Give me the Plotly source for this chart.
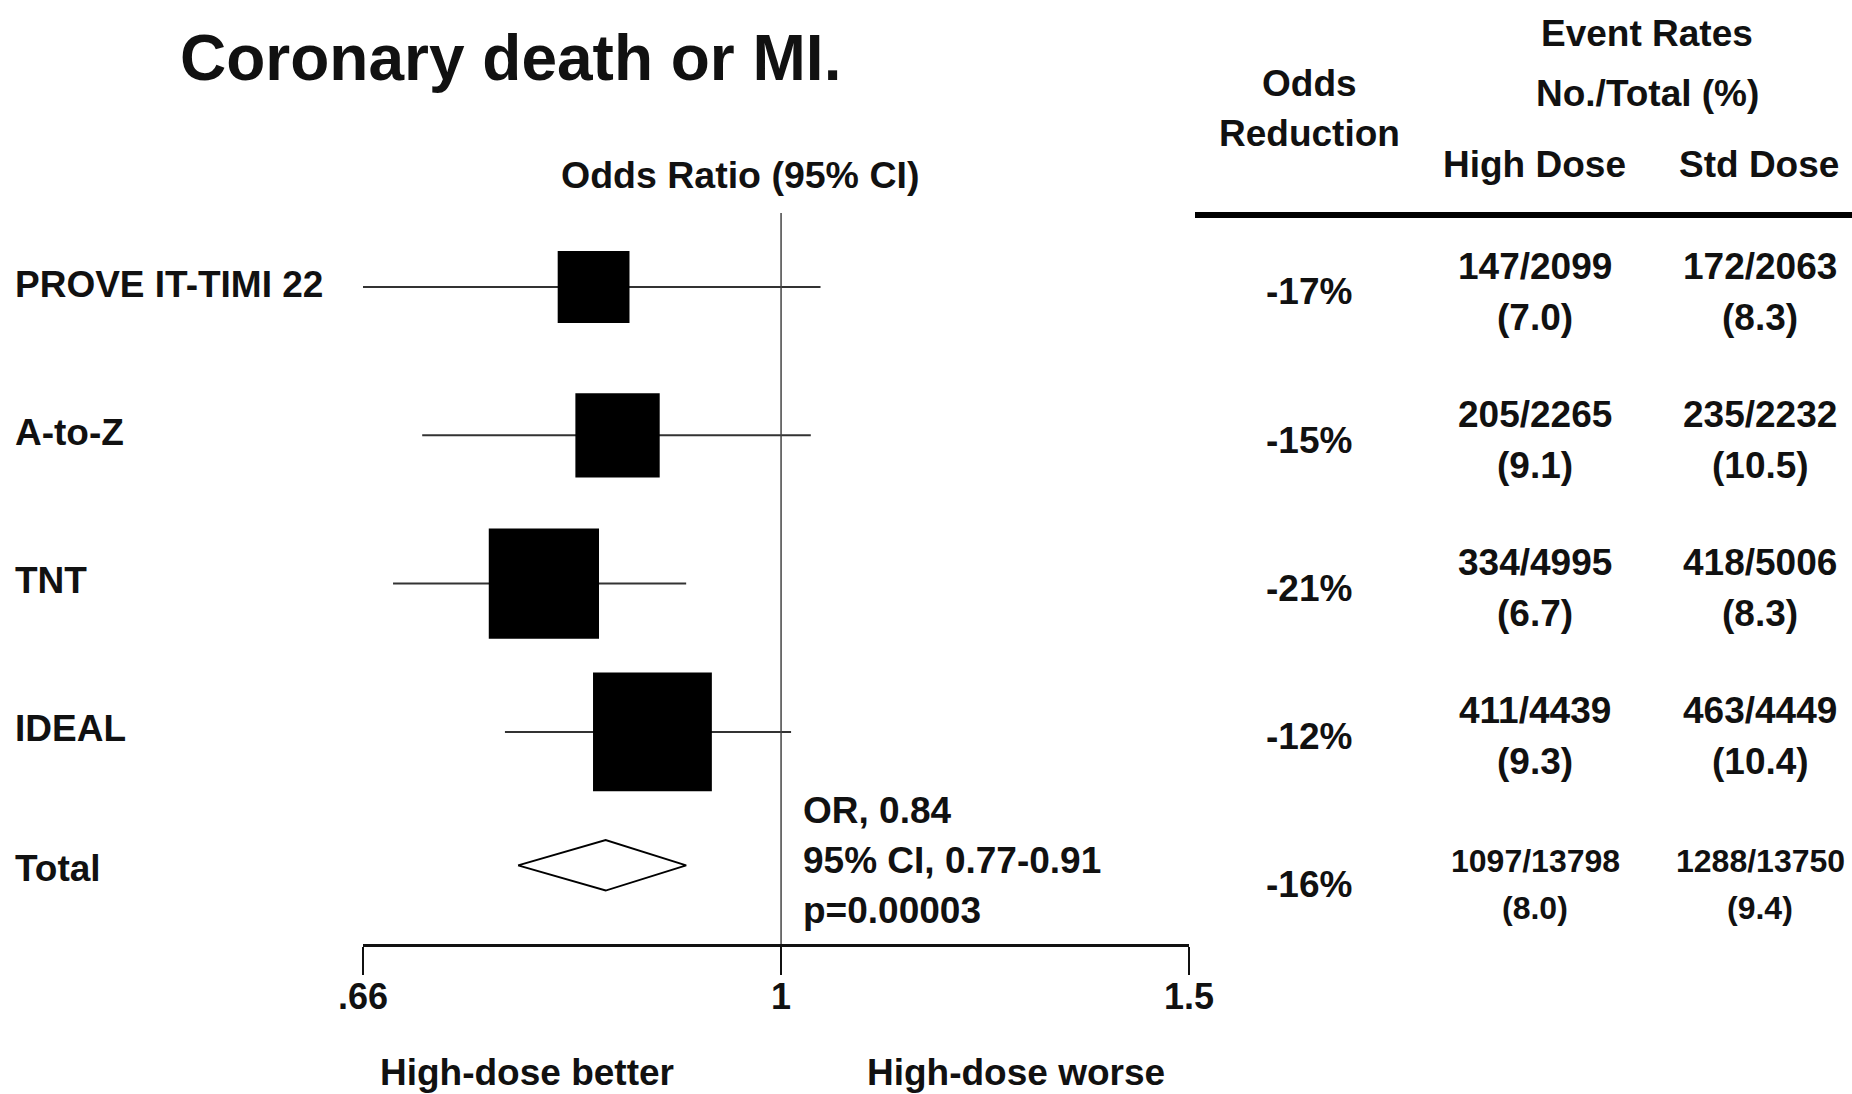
import math
import plotly.graph_objects as go

# ---------------- data ----------------
trials = ["PROVE IT-TIMI 22", "A-to-Z", "TNT", "IDEAL"]
odds_ratio = [0.83, 0.85, 0.79, 0.88]
ci_low = [0.66, 0.70, 0.68, 0.76]
ci_high = [1.04, 1.03, 0.91, 1.01]
high_events = [147, 205, 334, 411]
high_total = [2099, 2265, 4995, 4439]
std_events = [172, 235, 418, 463]
std_total = [2063, 2232, 5006, 4449]

total_label = "Total"
total_or = 0.84
total_low = 0.77
total_high = 0.91
total_p = "0.00003"

axis_ticks = [0.66, 1, 1.5]
axis_ticktext = [".66", "1", "1.5"]

# ---------------- layout helpers ----------------
W, H = 1852, 1094
FONT = "Liberation Sans, Arial, Helvetica, sans-serif"
INK = "#111111"


def px(xp):
    return xp / W


def py(yp):
    return 1 - yp / H


# plot rows (index) ; total row sits slightly closer
row_pos = [0, 1, 2, 3]
total_pos = 3.9

fig = go.Figure()

# CI lines
cx, cy = [], []
for i, (lo, hi) in enumerate(zip(ci_low, ci_high)):
    cx += [lo, hi, None]
    cy += [row_pos[i], row_pos[i], None]
fig.add_trace(go.Scatter(x=cx, y=cy, mode="lines",
                         line=dict(color="#333333", width=2),
                         hoverinfo="skip", showlegend=False))

# boxes: area proportional to number of events
events = [a + b for a, b in zip(high_events, std_events)]
box_size = [4.02 * math.sqrt(e) for e in events]
fig.add_trace(go.Scatter(x=odds_ratio, y=row_pos, mode="markers",
                         marker=dict(symbol="square", size=box_size, opacity=1,
                                     color="black", line=dict(width=0)),
                         showlegend=False))

# diamond for total
dh = 0.17
fig.add_trace(go.Scatter(
    x=[total_low, total_or, total_high, total_or, total_low],
    y=[total_pos, total_pos - dh, total_pos, total_pos + dh, total_pos],
    mode="lines", fill="toself", fillcolor="white",
    line=dict(color="black", width=2), showlegend=False))

# reference line at OR = 1
fig.add_shape(type="line", xref="x", x0=1, x1=1, yref="y domain", y0=0, y1=1,
              line=dict(color="#444444", width=1.5))

# table header rule
fig.add_shape(type="line", xref="paper", x0=px(1195), x1=1.0,
              yref="paper", y0=py(215), y1=py(215),
              line=dict(color="black", width=6))

ann = []


def text(x, y, s, size, xanchor="center", xref="paper", yref="paper"):
    ann.append(dict(x=x, y=y, xref=xref, yref=yref, text=f"<b>{s}</b>",
                    showarrow=False, xanchor=xanchor, yanchor="middle", align="center",
                    font=dict(family=FONT, size=size, color=INK)))


# title
text(px(510), py(58), "Coronary death or MI.", 64)
text(px(740), py(175), "Odds Ratio (95% CI)", 37.5)

# row labels
for i, name in enumerate(trials):
    text(px(13), row_pos[i] - 0.02, name, 37, xanchor="left", yref="y")
text(px(13), total_pos + 0.02, total_label, 37, xanchor="left", yref="y")

# stats
stats = [f"OR, {total_or:.2f}", f"95% CI, {total_low:.2f}-{total_high:.2f}", f"p={total_p}"]
for k, s in enumerate(stats):
    text(px(801), py(810 + 50 * k), s, 37, xanchor="left")

# direction labels
text(px(527), py(1072), "High-dose better", 37)
text(px(1016), py(1072), "High-dose worse", 37)

# table headers
text(px(1309), py(83), "Odds", 37)
text(px(1309), py(133), "Reduction", 37)
text(px(1647), py(34), "Event Rates", 37)
text(px(1647), py(93), "No./Total (%)", 37)
text(px(1534), py(164), "High Dose", 37)
text(px(1759), py(164), "Std Dose", 37)

# table body
all_or = odds_ratio + [total_or]
all_he = high_events + [sum(high_events)]
all_ht = high_total + [sum(high_total)]
all_se = std_events + [sum(std_events)]
all_st = std_total + [sum(std_total)]
for i in range(5):
    yc = 292 + 148 * i
    red = round((all_or[i] - 1) * 100)
    text(px(1309), py(yc), f"{red}%", 37)
    small = i == 4
    fs = 32 if small else 37
    dy = 23.5 if small else 25.5
    text(px(1535), py(yc - dy), f"{all_he[i]}/{all_ht[i]}", fs)
    text(px(1535), py(yc + dy), f"({100 * all_he[i] / all_ht[i]:.1f})", fs)
    text(px(1760), py(yc - dy), f"{all_se[i]}/{all_st[i]}", fs)
    text(px(1760), py(yc + dy), f"({100 * all_se[i] / all_st[i]:.1f})", fs)

ymin_px, ymax_px = 213, 944
y_top = (ymin_px - 287) / 148.3
y_bot = (ymax_px - 287) / 148.3

fig.update_layout(
    width=W, height=H, margin=dict(l=0, r=0, t=0, b=0, autoexpand=False),
    paper_bgcolor="white", plot_bgcolor="white",
    annotations=ann, showlegend=False,
    xaxis=dict(type="log", range=[math.log10(0.66), math.log10(1.5)],
               domain=[px(363), px(1189)], showline=True, linewidth=3, linecolor=INK,
               ticks="outside", ticklen=28, tickwidth=2, tickcolor=INK,
               tickvals=axis_ticks, ticktext=axis_ticktext, ticklabelstandoff=-9,
               tickfont=dict(family=FONT, size=36, color=INK, weight="bold"),
               showgrid=False, zeroline=False, mirror=False, automargin=False),
    yaxis=dict(range=[y_bot, y_top], domain=[py(ymax_px), py(ymin_px)],
               visible=False, showgrid=False, zeroline=False, automargin=False),
)

fig.write_html("out.html")
